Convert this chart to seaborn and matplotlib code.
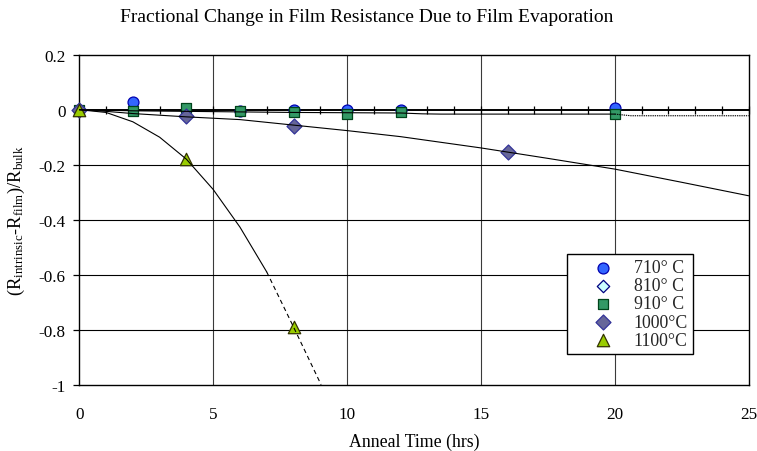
import matplotlib
matplotlib.use("Agg")
import numpy as np
import pandas as pd
import seaborn as sns
import matplotlib.pyplot as plt

# ---------------- data ----------------
t_710 = [0, 2, 6, 8, 10, 12, 20]
r_710 = [0.0, 0.029, -0.006, 0.0, -0.002, 0.0, 0.007]
t_810 = [0]
r_810 = [0.0]
t_910 = [0, 2, 4, 6, 8, 10, 12, 20]
r_910 = [0.0, -0.003, 0.005, -0.003, -0.010, -0.014, -0.010, -0.015]
t_1000 = [0, 4, 8, 16]
r_1000 = [0.0, -0.024, -0.058, -0.153]
t_1100 = [0, 4, 8]
r_1100 = [0.0, -0.179, -0.79]

# trend curves
fit910_t = [0, 2, 4, 6, 8, 10, 12, 12.8, 13.5, 16, 20]
fit910_r = [0.0, -0.004, -0.006, -0.008, -0.010, -0.011, -0.012, -0.015, -0.016, -0.016, -0.016]
fit910x_t = [20, 20.6, 22, 25]
fit910x_r = [-0.016, -0.022, -0.022, -0.022]
fit1000_t = [0, 1, 2, 3, 4, 5, 6, 8, 10, 12, 15, 17.5, 20, 22.5, 25]
fit1000_r = [0.0, -0.006, -0.014, -0.020, -0.026, -0.031, -0.036, -0.056, -0.076,
             -0.098, -0.139, -0.177, -0.216, -0.264, -0.313]
fit1100_t = [0, 1, 2, 3, 4, 5, 6, 7]
fit1100_r = [0.0, -0.010, -0.044, -0.100, -0.180, -0.290, -0.427, -0.590]
fit1100x_t = [7, 8, 9.03]
fit1100x_r = [-0.590, -0.790, -1.0]

labels = ["710\u00b0 C", "810\u00b0 C", "910\u00b0 C", "1000\u00b0C", "1100\u00b0C"]
x_ticks = [0, 5, 10, 15, 20, 25]
y_ticks = [0.2, 0.0, -0.2, -0.4, -0.6, -0.8, -1.0]
y_ticklabels = ["0.2", "0", "-0.2", "-0.4", "-0.6", "-0.8", "-1"]
title = "Fractional Change in Film Resistance Due to Film Evaporation"
xlabel = "Anneal Time (hrs)"
ylabel = r"(R$_{\mathrm{intrinsic}}$-R$_{\mathrm{film}}$)/R$_{\mathrm{bulk}}$"

# ---------------- style ----------------
sns.set_theme(style="white")
plt.rcParams["font.family"] = ["Liberation Serif", "DejaVu Serif"]
plt.rcParams["mathtext.fontset"] = "custom"
plt.rcParams["mathtext.rm"] = "Liberation Serif"
plt.rcParams["mathtext.it"] = "Liberation Serif:italic"
plt.rcParams["axes.unicode_minus"] = False

FS = 12.3
W, H = 757, 452
fig = plt.figure(figsize=(W / 100, H / 100), dpi=100)
L, R, T, B = 79.3, 748.7, 55.7, 385.7
ax = fig.add_axes([L / W, 1 - B / H, (R - L) / W, (B - T) / H])
ax.set_facecolor("white")

xlim = (0, 25)
ylim = (-1.0, 0.2)
ax.set_xlim(*xlim)
ax.set_ylim(*ylim)

# grid
for v in x_ticks[1:-1]:
    ax.axvline(v, color="#3a3a3a", lw=0.8, zorder=1)
for v in y_ticks[2:-1]:
    ax.axhline(v, color="black", lw=0.8, zorder=1)

for s in ax.spines.values():
    s.set_color("black")
    s.set_linewidth(1.0)
    s.set_visible(True)

# points
series = [
    (t_710, r_710, "o", "#3366FF", "#0000B0", 62, labels[0]),
    (t_810, r_810, "D", "#CCFFFF", "#000080", 40, labels[1]),
    (t_910, r_910, "s", "#339966", "#00441B", 62, labels[2]),
    (t_1000, r_1000, "D", "#666699", "#333399", 58, labels[3]),
    (t_1100, r_1100, "^", "#99CC00", "#333300", 80, labels[4]),
]
for i, (tx, ry, m, fc, ec, s, lab) in enumerate(series):
    df = pd.DataFrame({"t": tx, "r": ry})
    sns.scatterplot(data=df, x="t", y="r", marker=m, s=s, color=fc, edgecolor=ec,
                    linewidth=0.9, ax=ax, zorder=3 + i, label=lab, clip_on=False)

# trend curves
def curve(tx, ry, ls, lw=0.8):
    df = pd.DataFrame({"t": tx, "r": ry})
    sns.lineplot(data=df, x="t", y="r", sort=False, estimator=None, color="black",
                 lw=lw, linestyle=ls, ax=ax, zorder=9)

curve(fit910_t, fit910_r, "-")
curve(fit910x_t, fit910x_r, (0, (1.2, 0.8)))
curve(fit1000_t, fit1000_r, "-")
curve(fit1100_t, fit1100_r, "-")
curve(fit1100x_t, fit1100x_r, (0, (4, 3)))

# zero axis with crossing ticks
loc0 = (0 - ylim[0]) / (ylim[1] - ylim[0])
sec = ax.secondary_xaxis(loc0)
sec.set_xticks(np.arange(0, 26, 1))
sec.tick_params(direction="inout", length=6, width=0.9, color="black",
                labeltop=False, labelbottom=False)
for s in sec.spines.values():
    s.set_linewidth(1.4)
    s.set_color("black")
sec.set_zorder(2)

# ticks
ax.set_xticks(x_ticks)
ax.set_xticklabels([str(v) for v in x_ticks], fontsize=FS)
ax.set_yticks(y_ticks)
ax.set_yticklabels(y_ticklabels, fontsize=FS)
ax.tick_params(axis="x", bottom=True, length=0, pad=15, colors="black")
ax.tick_params(axis="y", left=True, length=4, width=0.9, direction="out", pad=6, colors="black")

ax.set_xlabel(xlabel, fontsize=12.8, color="black")
ax.xaxis.set_label_coords(0.5, (B - 434) / (B - T))
ax.set_ylabel(ylabel, fontsize=13.3, color="black")
ax.yaxis.set_label_coords((27 - L) / (R - L), 0.5)

fig.text(367 / W, 1 - 18 / H, title, ha="center", va="center", fontsize=14, color="black")

# legend
h, l = ax.get_legend_handles_labels()
leg = ax.legend(h[:5], l[:5], loc="upper left",
                bbox_to_anchor=((567 - L) / (R - L), (B - 255) / (B - T)),
                borderaxespad=0, fontsize=12.8, frameon=True, fancybox=False,
                edgecolor="black", framealpha=1, borderpad=0.3, labelspacing=0.06,
                handlelength=3.5, handletextpad=-0.05)
leg.get_frame().set_linewidth(1.0)
leg.set_zorder(20)

fig.savefig("out.png", dpi=100, facecolor="white")
